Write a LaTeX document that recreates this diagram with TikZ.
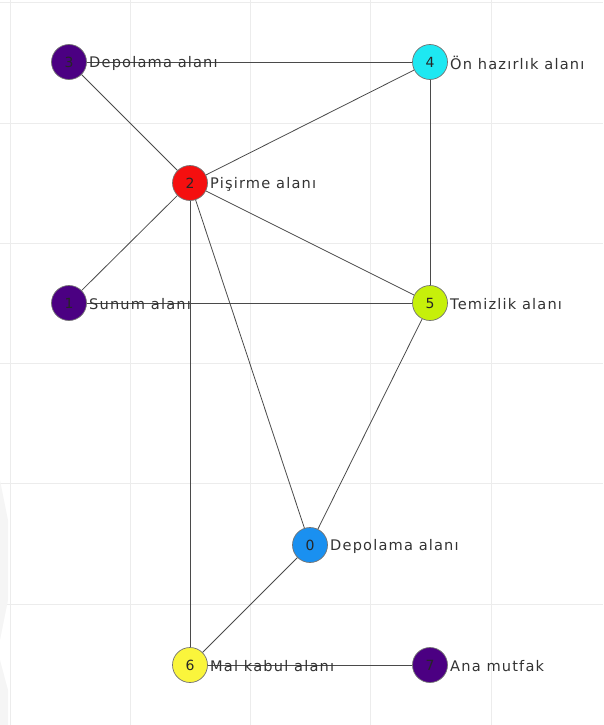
\documentclass[tikz,border=0pt]{standalone}
\usepackage{fontspec}
\setmainfont{DejaVu Sans}[LetterSpace=8]
\definecolor{gridc}{HTML}{ECECEC}
\definecolor{edgec}{HTML}{4A4A4A}
\definecolor{txtc}{HTML}{333333}
\definecolor{indigoc}{HTML}{4B0082}
\definecolor{cyanc}{HTML}{1EE8F2}
\definecolor{redc}{HTML}{F50F0F}
\definecolor{limec}{HTML}{C6F00A}
\definecolor{bluec}{HTML}{1A90F0}
\definecolor{yellowc}{HTML}{FAF53C}
\tikzset{
  vert/.style={circle, minimum size=35pt, inner sep=0pt, draw=black!55,
    line width=0.7pt, font=\fontsize{14}{14}\selectfont, text=black!85},
  vlabel/.style={anchor=west, inner sep=0pt, text=txtc,
    font=\fontsize{14.6}{14.6}\selectfont},
  link/.style={draw=edgec, line width=0.8pt}
}
\begin{document}
\begin{tikzpicture}[x=1pt, y=-1pt]
  \useasboundingbox (0,0) rectangle (603,725);
  % light background grid
  \foreach \gx in {10,130,250,370,491}
    \draw[gridc, line width=1pt] (\gx,0) -- (\gx,725);
  \foreach \gy in {3,123,243,363,483,604}
    \draw[gridc, line width=1pt] (0,\gy) -- (603,\gy);
  % faint mark at the left edge
  \fill[black!4] (0,480) -- (8,520) -- (8,600) -- (0,640) -- cycle;
  \fill[black!4] (0,660) -- (8,690) -- (8,725) -- (0,725) -- cycle;

  % vertices
  \node[vert, fill=indigoc]  (n3) at (69,62)   {3};
  \node[vert, fill=cyanc]    (n4) at (430,62)  {4};
  \node[vert, fill=redc]     (n2) at (190,183) {2};
  \node[vert, fill=indigoc]  (n1) at (69,303)  {1};
  \node[vert, fill=limec]    (n5) at (430,303) {5};
  \node[vert, fill=bluec]    (n0) at (310,545) {0};
  \node[vert, fill=yellowc]  (n6) at (190,665) {6};
  \node[vert, fill=indigoc]  (n7) at (430,665) {7};

  % edges
  \draw[link] (n3) -- (n4);
  \draw[link] (n3) -- (n2);
  \draw[link] (n2) -- (n4);
  \draw[link] (n2) -- (n1);
  \draw[link] (n2) -- (n5);
  \draw[link] (n2) -- (n6);
  \draw[link] (n2) -- (n0);
  \draw[link] (n1) -- (n5);
  \draw[link] (n4) -- (n5);
  \draw[link] (n5) -- (n0);
  \draw[link] (n0) -- (n6);
  \draw[link] (n6) -- (n7);

  % vertex names
  \node[vlabel] (t3) at (89,63)  {Depolama alanı};
  \node[vlabel] (t4) at (450,63) {Ön hazırlık alanı};
  \node[vlabel] (t2) at (210,184) {Pişirme alanı};
  \node[vlabel] (t1) at (89,304) {Sunum alanı};
  \node[vlabel] (t5) at (450,304) {Temizlik alanı};
  \node[vlabel] (t0) at (330,546) {Depolama alanı};
  \node[vlabel] (t6) at (210,666) {Mal kabul alanı};
  \node[vlabel] (t7) at (450,666) {Ana mutfak};
\end{tikzpicture}
\end{document}
